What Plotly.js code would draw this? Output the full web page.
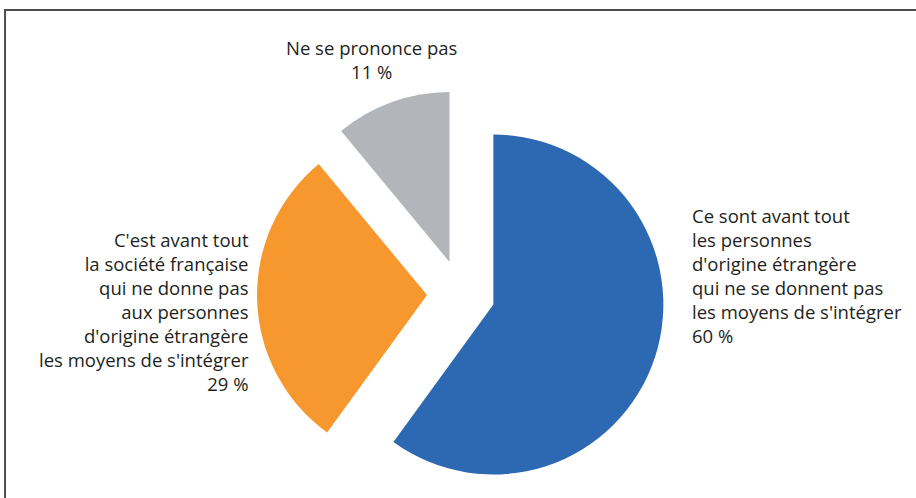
<!DOCTYPE html>
<html>
<head>
<meta charset="utf-8">
<script src="https://cdn.plot.ly/plotly-3.0.1.min.js"></script>
<style>
  html, body { margin: 0; padding: 0; background: #fff; }
  #chart { width: 916px; height: 498px; }
</style>
</head>
<body>
<div id="chart"></div>
<script>
const answers = [
  "Ce sont avant tout<br>les personnes<br>d'origine étrangère<br>qui ne se donnent pas<br>les moyens de s'intégrer",
  "C'est avant tout<br>la société française<br>qui ne donne pas<br>aux personnes<br>d'origine étrangère<br>les moyens de s'intégrer",
  'Ne se prononce pas',
];
const shares = [60, 29, 11];
const sliceColors = ['#2d69b2', '#f7982e', '#b2b5b9'];

// label blocks: paper x, block middle in px from top
const labelPlacement = [
  { x: 0.754, mid: 275.5, xanchor: 'left', align: 'left' },
  { x: 0.273, mid: 311, xanchor: 'right', align: 'right' },
  { x: 0.406, mid: 59.5, xanchor: 'center', align: 'center' },
];
const H = 498;

const textFont = { family: '"Open Sans", "Noto Sans", sans-serif', size: 18.5, color: '#231f20' };

const annotations = answers.map((label, i) => {
  const p = labelPlacement[i];
  return {
    x: p.x,
    y: 1 - p.mid / H,
    xref: 'paper',
    yref: 'paper',
    xanchor: p.xanchor,
    yanchor: 'middle',
    align: p.align,
    borderpad: 0,
    showarrow: false,
    text: `${label}<br>${shares[i]} %`,
    font: textFont,
  };
});

Plotly.newPlot('chart', [{
  type: 'pie',
  values: shares,
  labels: answers,
  marker: { colors: sliceColors, line: { width: 0 } },
  sort: false,
  direction: 'clockwise',
  rotation: 0,
  pull: [0.2, 0.2, 0.2],
  textinfo: 'none',
  hoverinfo: 'label+percent',
  domain: { x: [0.2806, 0.726], y: [0, 0.8193] },
}], {
  width: 916,
  height: 498,
  margin: { l: 0, r: 0, t: 0, b: 0 },
  paper_bgcolor: '#ffffff',
  showlegend: false,
  annotations,
  shapes: [{
    type: 'rect',
    xref: 'paper',
    yref: 'paper',
    x0: 0.0055,
    x1: 1.02,
    y0: -0.02,
    y1: 0.980,
    line: { color: '#4d4d4d', width: 2 },
  }],
}, { displayModeBar: false, staticPlot: true });
</script>
</body>
</html>
